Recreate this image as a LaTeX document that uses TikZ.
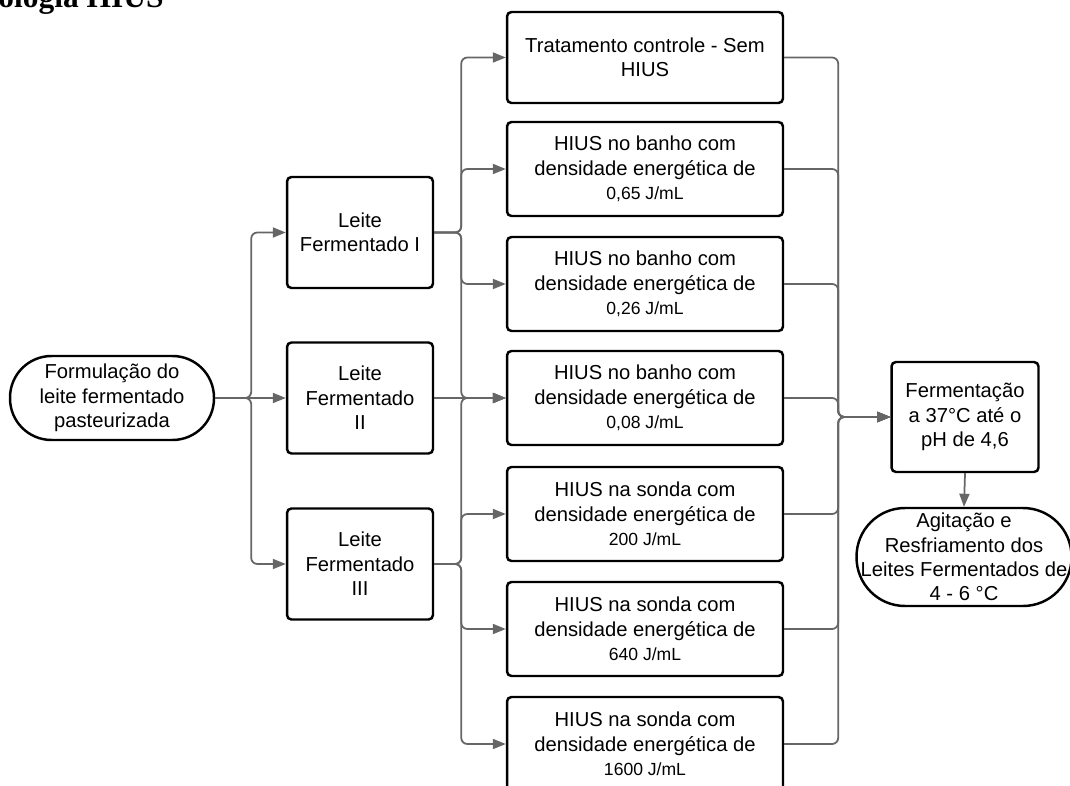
\documentclass[tikz,border=0pt]{standalone}
\usepackage{fontspec}
\setmainfont{Liberation Sans}
\newfontfamily\titlefont{Liberation Serif}
\usetikzlibrary{arrows.meta}

\newcommand{\pequeno}{\fontsize{10}{12}\selectfont}

\begin{document}
\begin{tikzpicture}[x=0.02cm,y=-0.02cm,
  caixa/.style={draw=black,line width=1.4pt,rounded corners=2.5pt,align=center,inner sep=0pt,
    font=\fontsize{11.5}{13.9}\selectfont},
  tratamento/.style={caixa,minimum width=5.52cm,minimum height=1.88cm},
  leite/.style={caixa,minimum width=2.92cm,minimum height=2.22cm},
  seta/.style={draw=black!60,line width=1pt,rounded corners=3.5pt,-{Triangle[length=7.4pt,width=5.7pt]}}]
  \useasboundingbox (0,0) rectangle (1070,786);

  \node[anchor=base west,inner sep=0pt,font=\titlefont\bfseries\fontsize{17.9}{20}\selectfont] (titulo) at (-2,8) {ologia HIUS};

  \node[caixa,rounded corners=0.83cm,minimum width=4.08cm,minimum height=1.68cm] (inicio) at (112,398)
    {Formulação do\\leite fermentado\\pasteurizada};

  \node[leite] (l1) at (360,232.5) {Leite\\Fermentado I};
  \node[leite] (l2) at (360,398) {Leite\\Fermentado\\II};
  \node[leite] (l3) at (360,564) {Leite\\Fermentado\\III};

  \node[tratamento,minimum height=1.82cm] (t1) at (645,57.5) {Tratamento controle - Sem\\HIUS};
  \node[tratamento] (t2) at (645,169) {HIUS no banho com\\densidade energética de\\{\pequeno 0,65 J/mL}};
  \node[tratamento] (t3) at (645,284) {HIUS no banho com\\densidade energética de\\{\pequeno 0,26 J/mL}};
  \node[tratamento] (t4) at (645,398) {HIUS no banho com\\densidade energética de\\{\pequeno 0,08 J/mL}};
  \node[tratamento] (t5) at (645,514) {HIUS na sonda com\\densidade energética de\\{\pequeno 200 J/mL}};
  \node[tratamento] (t6) at (645,629) {HIUS na sonda com\\densidade energética de\\{\pequeno 640 J/mL}};
  \node[tratamento] (t7) at (645,744) {HIUS na sonda com\\densidade energética de\\{\pequeno 1600 J/mL}};

  \node[caixa,minimum width=2.94cm,minimum height=2.2cm] (ferm) at (965,417) {Fermentação\\a 37°C até o\\pH de 4,6};
  \node[caixa,rounded corners=0.97cm,minimum width=4.3cm,minimum height=1.96cm] (fim) at (964,557)
    {Agitação e\\Resfriamento dos\\Leites Fermentados de\\4 - 6 °C};

  % formulacao -> leites
  \draw[seta] (inicio.east) -- (l2.west);
  \foreach \l in {l1,l3}
    \draw[seta] (inicio.east) -- ++(36,0) |- (\l.west);

  % leites -> tratamentos
  \foreach \t in {t1,t2,t3,t4}
    \draw[seta] (l1.east) -- ++(27,0) |- (\t.west);
  \draw[seta] (l2.east) -- (t4.west);
  \foreach \t in {t4,t5,t6,t7}
    \draw[seta] (l3.east) -- ++(27,0) |- (\t.west);

  % tratamentos -> fermentacao
  \foreach \t in {t1,t2,t3,t4,t5,t6,t7}
    \draw[seta] (\t.east) -- ++(54,0) |- (ferm.west);
  \draw[seta] (ferm.south) -- (fim.north);
\end{tikzpicture}
\end{document}
